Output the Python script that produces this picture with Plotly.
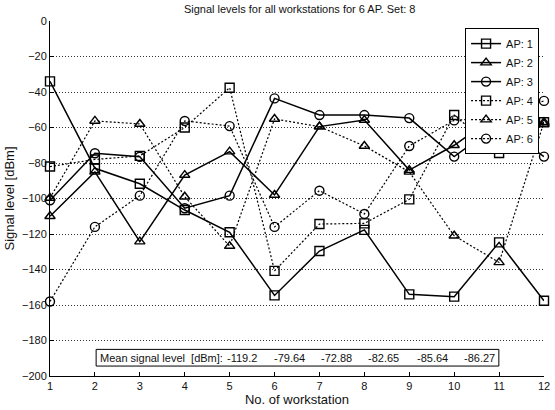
import plotly.graph_objects as go

workstations = list(range(1, 13))
ap1 = [-34, -83, -91.7, -106.5, -119, -154.6, -129.6, -117.7, -154, -155.3, -124.7, -157.6]
ap2 = [-110, -85, -124.3, -86.8, -73.6, -98, -59.5, -55.8, -84, -70, -52, -58]
ap3 = [-101, -74.5, -76.5, -105.5, -98.4, -43.6, -53, -53, -54.7, -76.4, -58, -76.4]
ap4 = [-82, -78, -76, -60, -37.6, -140.8, -114.4, -114, -100.5, -53, -74.4, -57]
ap5 = [-99.7, -56.3, -58, -99, -126.8, -55.2, -59.5, -70.4, -85, -121, -136, -57]
ap6 = [-158, -116, -98.4, -56.3, -59.2, -116, -95.6, -108.7, -70.4, -56, -54, -45]
series_names = ["AP: 1", "AP: 2", "AP: 3", "AP: 4", "AP: 5", "AP: 6"]
mean_label = "Mean signal level  [dBm]:"
mean_values = ["-119.2", "-79.64", "-72.88", "-82.65", "-85.64", "-86.27"]
y_ticks = list(range(0, -201, -20))

FONT = "Liberation Sans, Arial, sans-serif"
series = [ap1, ap2, ap3, ap4, ap5, ap6]
symbols = ["square-open", "triangle-up-open", "circle-open"] * 2
dashes = ["solid"] * 3 + ["2px,2px"] * 3
widths = [1.5] * 3 + [1.2] * 3

fig = go.Figure()
for vals, name, sym, dash, w in zip(series, series_names, symbols, dashes, widths):
    fig.add_trace(go.Scatter(
        x=workstations, y=vals, name=name, mode="lines+markers",
        line=dict(color="black", width=w, dash=dash),
        marker=dict(symbol=sym, size=9, color="black", line=dict(width=1.4, color="black")),
        cliponaxis=False,
    ))

# mean box
fig.add_shape(type="rect", xref="paper", yref="paper", x0=0.0934, x1=0.9086, y0=0.028, y1=0.075,
              line=dict(color="black", width=1), fillcolor="white", layer="above")
fig.add_annotation(xref="paper", yref="paper", x=0.097, y=0.0515, xanchor="left", yanchor="middle",
                   text=mean_label, showarrow=False, font=dict(family=FONT, size=11, color="#111"))
mean_pos = [0.388, 0.484, 0.580, 0.676, 0.774, 0.870]
for xp, t in zip(mean_pos, mean_values):
    fig.add_annotation(xref="paper", yref="paper", x=xp, y=0.0515, xanchor="center", yanchor="middle",
                       text=t, showarrow=False, font=dict(family=FONT, size=11, color="#111"))

fig.update_layout(
    width=555, height=410,
    margin=dict(l=50, r=5, t=21, b=34),
    paper_bgcolor="white", plot_bgcolor="white",
    font=dict(family=FONT, size=11, color="#111"),
    title=dict(text="Signal levels for all workstations for 6 AP. Set: 8", x=0.54, xanchor="center",
               y=1 - 9 / 410, yanchor="middle", font=dict(family=FONT, size=11, color="#111")),
    showlegend=True,
    legend=dict(x=0.99, xanchor="right", y=0.98, yanchor="top", bgcolor="white",
                bordercolor="black", borderwidth=1, font=dict(family=FONT, size=11, color="#111"),
                tracegroupgap=0),
)
fig.update_xaxes(range=[1, 12], tickvals=workstations, showgrid=False, zeroline=False,
                 showline=True, linecolor="black", linewidth=1, ticks="inside", ticklen=4,
                 tickcolor="black", ticklabeloverflow="allow",
                 title=dict(text="No. of workstation", standoff=2))
fig.update_yaxes(range=[-200, 0], tickvals=y_ticks, showgrid=True, gridcolor="#333", griddash="1px,2px",
                 gridwidth=1, zeroline=False, showline=True, linecolor="black", linewidth=1,
                 ticks="inside", ticklen=4, tickcolor="black",
                 title=dict(text="Signal level [dBm]", standoff=4))

fig.write_html("out.html", config={"displayModeBar": False},
               post_script="document.body.style.margin='0';document.body.style.overflow='hidden';")
